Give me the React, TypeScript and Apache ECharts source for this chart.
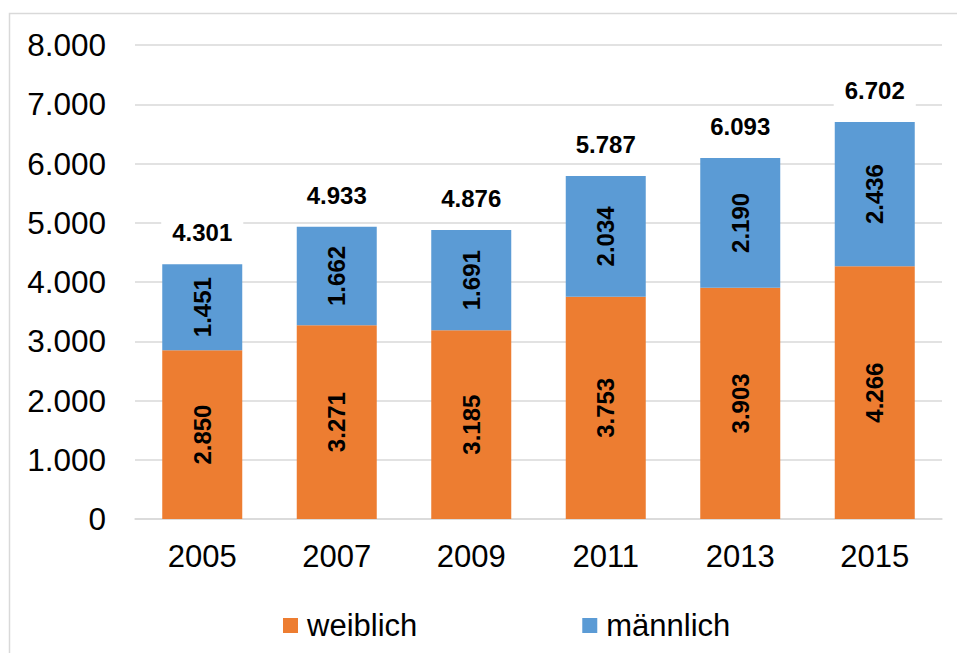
import React, { useEffect, useRef } from "react";
import * as echarts from "echarts";

const years = ["2005", "2007", "2009", "2011", "2013", "2015"];
const weiblich = [2850, 3271, 3185, 3753, 3903, 4266];
const maennlich = [1451, 1662, 1691, 2034, 2190, 2436];
const totals = [4301, 4933, 4876, 5787, 6093, 6702];

const fmt = (v: number) => String(v).replace(/\B(?=(\d{3})+(?!\d))/g, ".");
const FONT = "'Liberation Sans', Arial, sans-serif";

export default function App() {
  const ref = useRef<HTMLDivElement>(null);
  useEffect(() => {
    document.body.style.margin = "0";
    const chart = echarts.init(ref.current!, null, { renderer: "svg" });
    const insideLabel = {
      show: true,
      position: "inside",
      rotate: 90,
      color: "#000",
      fontFamily: FONT,
      fontWeight: "bold",
      fontSize: 24,
      formatter: (p: any) => fmt(p.value),
    };
    chart.setOption({
      animation: false,
      backgroundColor: "#fff",
      textStyle: { fontFamily: FONT },
      graphic: [
        {
          type: "rect",
          shape: { x: 9.5, y: 13.5, width: 1100, height: 800 },
          style: { fill: "none", stroke: "#D9D9D9", lineWidth: 1.5 },
          silent: true,
          z: -10,
        },
      ],
      grid: { left: 135, right: 15, top: 45, bottom: 134, containLabel: false },
      legend: {
        data: ["weiblich", "männlich"],
        left: 278,
        top: 605,
        icon: "rect",
        itemWidth: 15,
        itemHeight: 15,
        itemGap: 165,
        textStyle: { fontFamily: FONT, fontSize: 31, color: "#000", padding: [0, 0, 0, 4] },
      },
      xAxis: {
        type: "category",
        data: years,
        axisTick: { show: false },
        axisLine: { lineStyle: { color: "#D9D9D9", width: 1.5 } },
        axisLabel: { color: "#000", fontSize: 31, fontFamily: FONT, margin: 22 },
      },
      yAxis: {
        type: "value",
        min: 0,
        max: 8000,
        interval: 1000,
        axisLine: { show: false },
        axisTick: { show: false },
        splitLine: { lineStyle: { color: "#D9D9D9", width: 1.5 } },
        axisLabel: {
          color: "#000",
          fontSize: 31.5,
          fontFamily: FONT,
          margin: 29,
          formatter: (v: number) => fmt(v),
        },
      },
      series: [
        {
          name: "weiblich",
          type: "bar",
          stack: "total",
          data: weiblich,
          barWidth: 80,
          itemStyle: { color: "#ED7D31" },
          label: insideLabel,
        },
        {
          name: "männlich",
          type: "bar",
          stack: "total",
          data: maennlich,
          barWidth: 80,
          itemStyle: { color: "#5B9BD5" },
          label: insideLabel,
        },
        {
          name: "Gesamt",
          type: "line",
          data: totals,
          symbol: "circle",
          symbolSize: 1,
          itemStyle: { color: "rgba(0,0,0,0)" },
          lineStyle: { opacity: 0 },
          z: 5,
          label: {
            show: true,
            position: "top",
            distance: 15,
            color: "#000",
            fontFamily: FONT,
            fontWeight: "bold",
            fontSize: 24,
            backgroundColor: "#fff",
            padding: [4, 11],
            formatter: (p: any) => fmt(p.value),
          },
        },
      ],
    });
    return () => chart.dispose();
  }, []);
  return <div ref={ref} style={{ width: 957, height: 653 }} />;
}
